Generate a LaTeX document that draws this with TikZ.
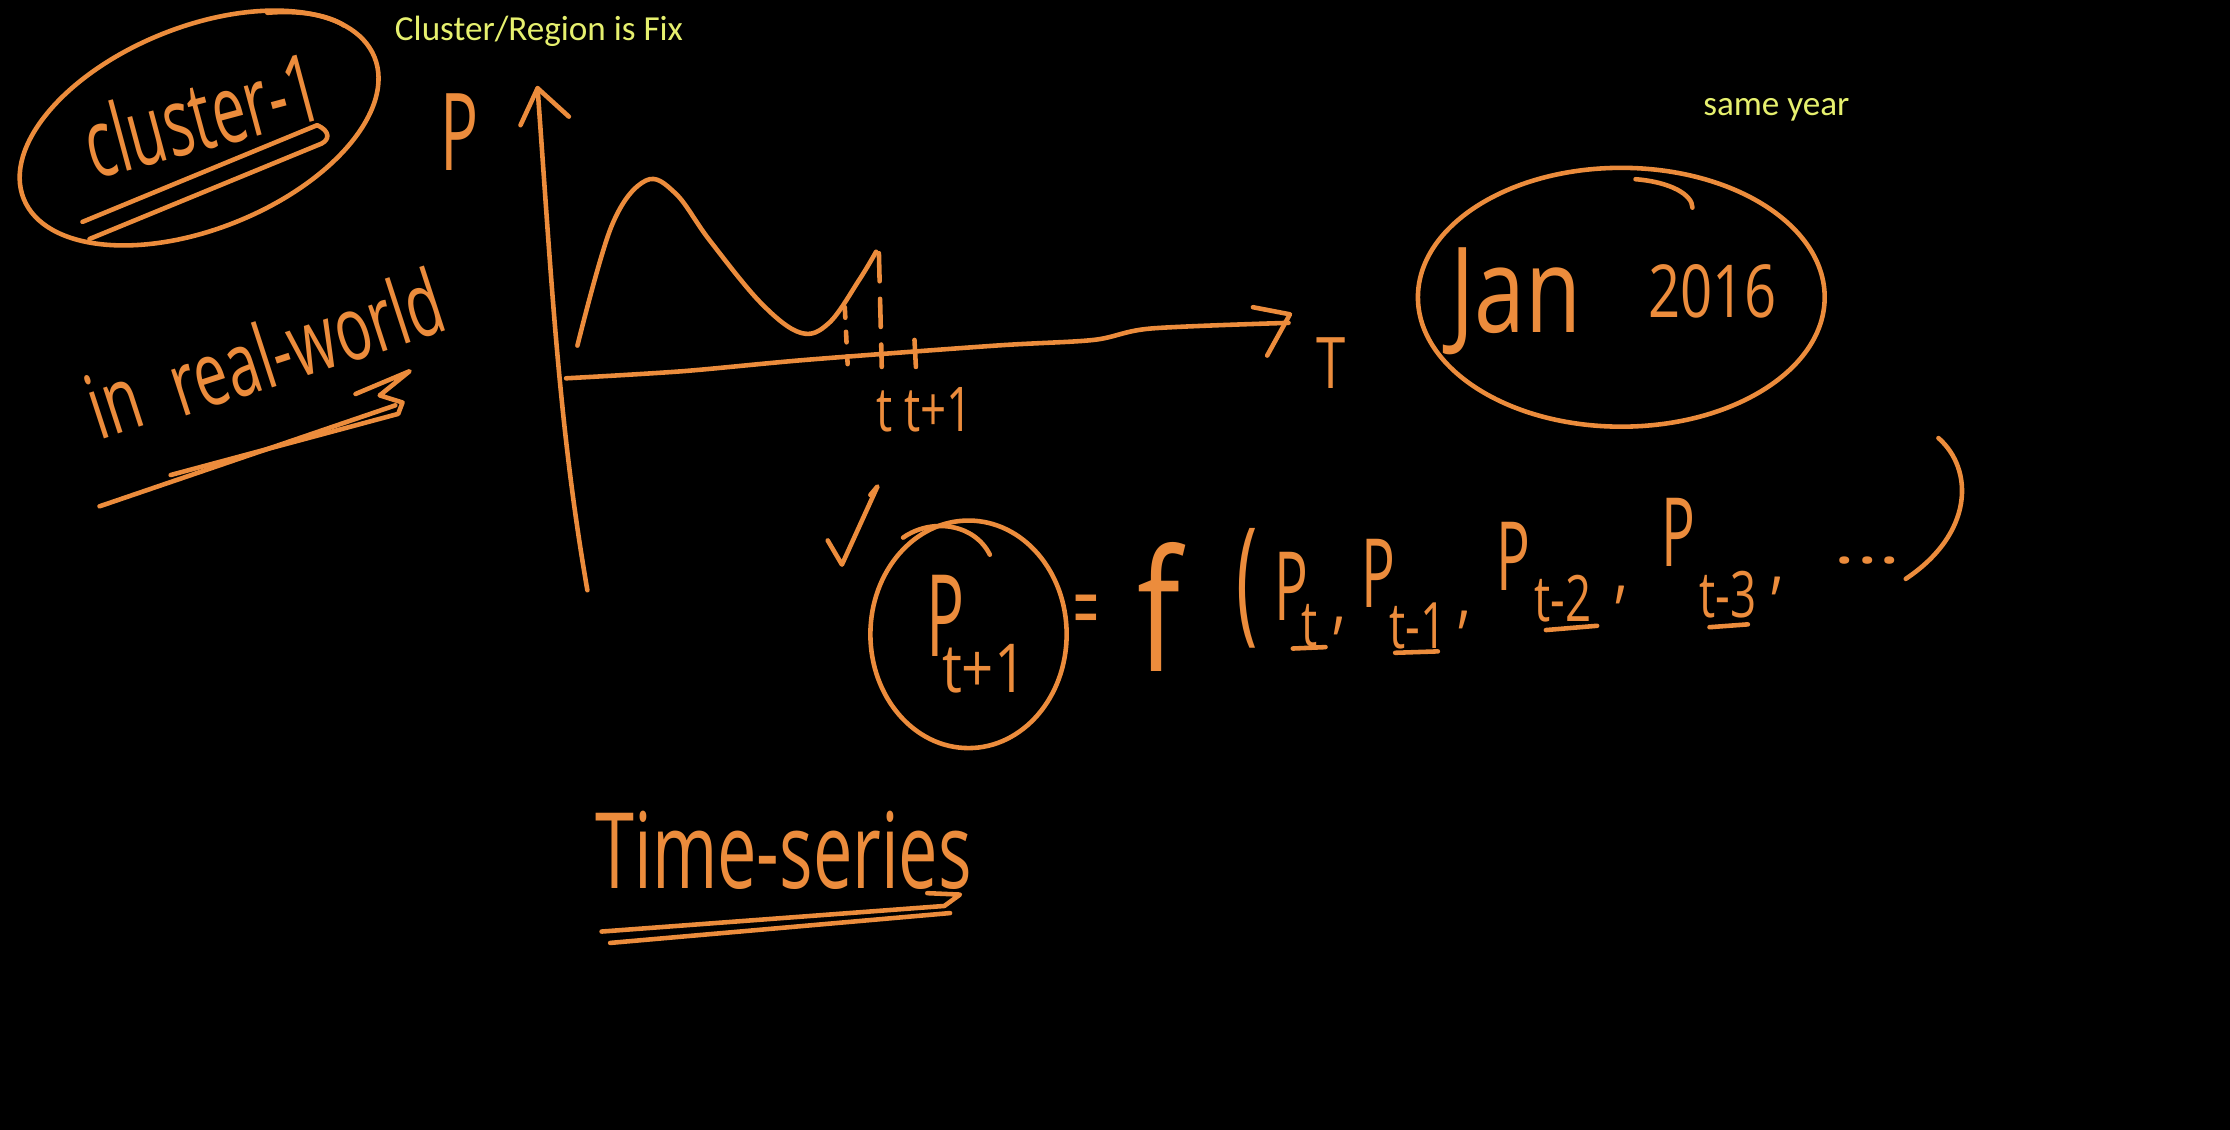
\documentclass[tikz,border=0pt]{standalone}
\usepackage{fontspec}
\setmainfont{Open Sans}
\newfontfamily\hwf{Open Sans}
\newfontfamily\ylf{Carlito}
\definecolor{ink}{RGB}{236,140,60}
\definecolor{yel}{RGB}{230,240,110}
\newcommand{\fsz}[1]{\fontsize{#1}{#1}\selectfont}
\newcommand{\hwt}[4]{\fsz{#1}\scalebox{#2}[#3]{#4}}
\begin{document}
\begin{tikzpicture}[x=0.014222cm,y=-0.014222cm,
  pen/.style={draw=ink, line width=1.3pt, line cap=round, line join=round},
  hw/.style={text=ink, inner sep=0pt, font=\hwf},
  note/.style={text=yel, inner sep=0pt, font=\ylf\fsz{10}}]
\fill[black] (0,0) rectangle (1568,794.5);
\useasboundingbox (0,0) rectangle (1568,794.5);

% yellow notes
\node[note] (fix) at (379,22) {Cluster/Region is Fix};
\node[note] (same) at (1249,77) {same year};

% cluster-1
\draw[pen, rotate around={22:(140,90)}] (140,90) ellipse (133 and 71);
\draw[pen] (188,9) .. controls (212,7) and (232,11) .. (242,18);
\node[hw, rotate=15] (c1) at (142,80) {\hwt{17}{1}{1.6}{cluster-1}};
\draw[pen] (58,156) -- (223,88) .. controls (232,92) and (232,98) .. (226,101) -- (63,168);

% in real-world
\node[hw, rotate=18] (inw) at (80,282) {\hwt{17}{1}{1.5}{in}};
\node[hw, rotate=18] (rw) at (215,240) {\hwt{17}{1}{1.5}{real-world}};
\draw[pen] (250,277) -- (288,261) -- (267,278) -- (283,283) -- (280,291) -- (120,334);
\draw[pen] (70,356) -- (278,285);

% axes
\node[hw] (plab) at (323,93) {\hwt{18}{1}{1.7}{P}};
\draw[pen] (378,62) .. controls (388,200) and (393,300) .. (413,415);
\draw[pen] (366,88) -- (378,62) -- (400,82);
\draw[pen] plot[smooth, tension=0.5] coordinates {(398,266) (480,261) (567,253) (700,243) (769,239) (809,231) (906,227)};
\draw[pen] (881,216) -- (907,221) -- (891,250);
\node[hw] (tlab) at (936,255) {\hwt{15}{1}{1.35}{T}};

% curve
\draw[pen] plot[smooth, tension=0.6] coordinates {(406,243) (430,159) (454,127) (475,136) (499,169) (535,213) (563,234) (583,227) (604,197) (616,177)};
\draw[pen, dash pattern=on 8pt off 5pt] (618,178) -- (620,258);
\draw[pen, dash pattern=on 3pt off 4pt] (594,216) -- (596,256);
\draw[pen] (643,239) -- (644,258);
\node[hw] (tt) at (650,288) {\hwt{13}{1}{1.35}{t t+1}};

% Jan 2016
\draw[pen] (1140,209) ellipse (143 and 91);
\draw[pen] (1150,126) .. controls (1175,128) and (1190,137) .. (1190,146);
\node[hw] (jan) at (1066,212) {\hwt{26}{1}{1.3}{Jan}};
\node[hw] (yr) at (1204,205) {\hwt{16}{1}{1.3}{2016}};

% P_{t+1}
\draw[pen] (582,380) -- (592,397) -- (617,342) -- (612,348);
\draw[pen] (681,446) ellipse (69 and 80);
\draw[pen] (635,378) .. controls (655,364) and (685,368) .. (696,390);
\node[hw] (pp) at (665,433) {\hwt{18}{1}{1.8}{P}};
\node[hw] (pps) at (692,470) {\hwt{16}{1}{1.2}{t+1}};

% = f ( ... )
\node[hw] (eq) at (764,435) {\hwt{16}{0.8}{1.7}{=}};
\node[hw] (ff) at (815,427) {\hwt{24}{1.5}{2.0}{f}};
\node[hw] (lp) at (877,414) {\hwt{34}{0.6}{1.15}{(}};

\node[hw] (p0) at (908,412) {\hwt{16}{1}{1.7}{P}};
\node[hw] (s0) at (921,440) {\hwt{13}{1}{1.4}{t}};
\node[hw] (c0) at (942,440) {\hwt{16}{1}{1.3}{,}};
\draw[pen] (909,456) -- (932,455);

\node[hw] (p1) at (969,403) {\hwt{16}{1}{1.7}{P}};
\node[hw] (s1) at (997,440) {\hwt{13}{1}{1.4}{t-1}};
\node[hw] (c1c) at (1030,436) {\hwt{16}{1}{1.3}{,}};
\draw[pen] (981,459) -- (1011,458);

\node[hw] (p2) at (1064,391) {\hwt{16}{1}{1.7}{P}};
\node[hw] (s2) at (1099,421) {\hwt{13}{1}{1.4}{t-2}};
\node[hw] (c2) at (1140,418) {\hwt{16}{1}{1.3}{,}};
\draw[pen] (1087,443) -- (1123,440);

\node[hw] (p3) at (1180,374) {\hwt{16}{1}{1.7}{P}};
\node[hw] (s3) at (1215,418) {\hwt{13}{1}{1.4}{t-3}};
\node[hw] (c3) at (1250,412) {\hwt{16}{1}{1.3}{,}};
\draw[pen] (1202,441) -- (1229,439);

\node[hw] (dots) at (1313,394) {\hwt{16}{1.5}{1}{...}};
\draw[pen] (1363,308) .. controls (1388,330) and (1388,375) .. (1340,407);

% Time-series
\node[hw] (ts) at (551,598) {\hwt{20}{1}{1.5}{Time-series}};
\draw[pen] (652,628) -- (675,629) -- (664,637) -- (423,655);
\draw[pen] (429,663) -- (668,642);
\end{tikzpicture}
\end{document}
